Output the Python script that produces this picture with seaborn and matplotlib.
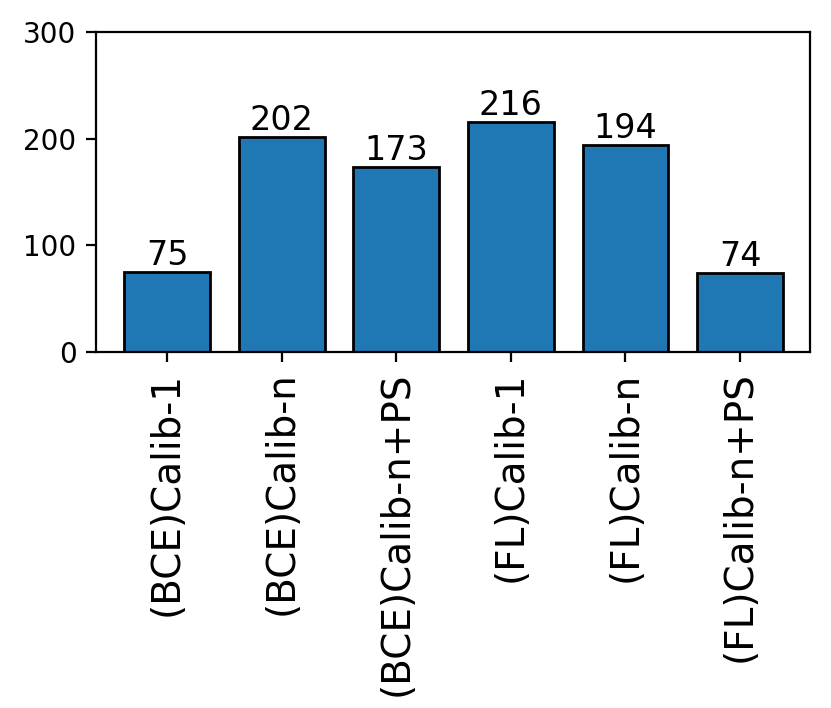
import matplotlib
matplotlib.use("Agg")
import matplotlib.pyplot as plt
import seaborn as sns
import pandas as pd

categories = ["(BCE)Calib-1", "(BCE)Calib-n", "(BCE)Calib-n+PS",
              "(FL)Calib-1", "(FL)Calib-n", "(FL)Calib-n+PS"]
values = [75, 202, 173, 216, 194, 74]
yticks = [0, 100, 200, 300]

df = pd.DataFrame({"method": categories, "count": values})

fig = plt.figure(figsize=(831 / 200, 708 / 200), dpi=200)
ax = fig.add_axes([96 / 831, 1 - 352 / 708, (810 - 96) / 831, (352 - 32) / 708])

sns.barplot(data=df, x="method", y="count", ax=ax, color="#1f77b4",
            saturation=1, width=0.75, edgecolor="black", linewidth=1.0)

for c in ax.containers:
    ax.bar_label(c, fontsize=12, padding=0)

ax.set_ylim(0, 300)
ax.set_yticks(yticks)
ax.set_xlim(-0.62, 5.61)
ax.set_xlabel("")
ax.set_ylabel("")
ax.tick_params(axis="y", labelsize=10)
ax.tick_params(axis="x", labelsize=14, rotation=90)
for s in ax.spines.values():
    s.set_visible(True)
    s.set_color("black")
    s.set_linewidth(0.8)

fig.savefig("out.png", dpi=200)
